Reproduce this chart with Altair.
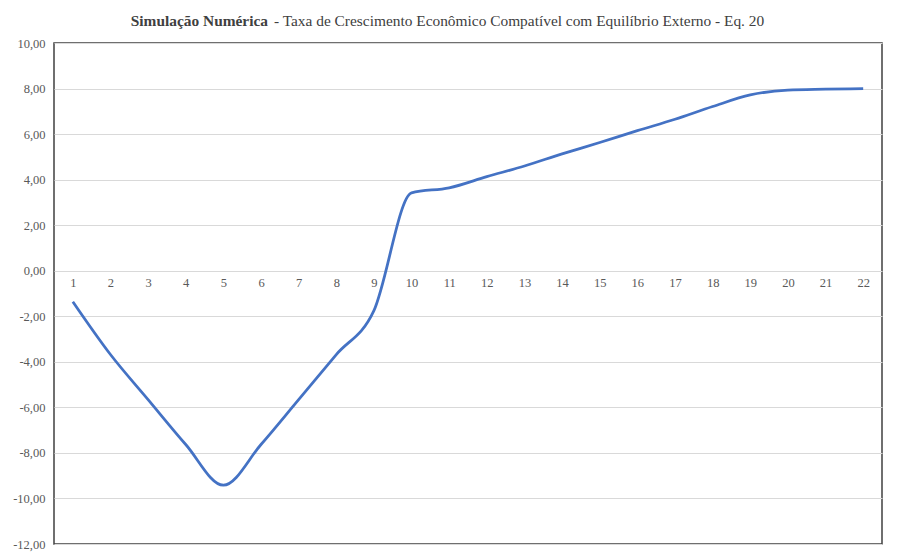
import altair as alt
import pandas as pd

periods = list(range(1, 23))
values = [-1.36, -3.68, -5.66, -7.63, -9.42, -7.63, -5.66, -3.68, -1.75, 3.42,
          3.64, 4.13, 4.60, 5.13, 5.63, 6.15, 6.65, 7.21, 7.72, 7.93, 7.97, 8.00]
y_ticks = [-12, -10, -8, -6, -4, -2, 0, 2, 4, 6, 8, 10]
title_bold = "Simulação Numérica"
title_rest = "- Taxa de Crescimento Econômico Compatível com Equilíbrio Externo - Eq. 20"

W, H = 828, 501
FONT = "'Liberation Serif', 'Times New Roman', serif"
df = pd.DataFrame({"p": periods, "v": values})

y0_pix = H * 10 / 22

line = alt.Chart(df).mark_line(
    interpolate="monotone", color="#4472C4", strokeWidth=2.75
).encode(
    x=alt.X("p:O", sort=periods, scale=alt.Scale(padding=0.5),
            axis=alt.Axis(title=None, labelAngle=0, domain=False, ticks=False,
                          grid=False, offset=-(H - y0_pix), labelPadding=6,
                          labelFont=FONT, labelFontSize=12.5, labelColor="#595959")),
    y=alt.Y("v:Q", scale=alt.Scale(domain=[-12, 10], nice=False, zero=False),
            axis=alt.Axis(title=None, values=y_ticks, domain=False, ticks=False,
                          labelPadding=9, gridColor="#d9d9d9", gridWidth=1,
                          labelFont=FONT, labelFontSize=12.5, labelColor="#595959",
                          labelExpr="replace(replace(format(datum.value, '.2f'), '.', ','), '\u2212', '-')")),
)

t1 = alt.Chart(pd.DataFrame({"t": [title_bold]})).mark_text(
    align="right", baseline="alphabetic", font=FONT, fontSize=15.4,
    fontWeight="bold", color="#404040"
).encode(text="t:N", x=alt.value(214), y=alt.value(-17.5))

t2 = alt.Chart(pd.DataFrame({"t": [title_rest]})).mark_text(
    align="left", baseline="alphabetic", font=FONT, fontSize=15.4,
    color="#404040"
).encode(text="t:N", x=alt.value(220), y=alt.value(-17.5))

chart = alt.layer(line, t1, t2).properties(
    width=W, height=H,
    autosize=alt.AutoSizeParams(type="none"),
    padding={"left": 46, "top": 35, "right": 10, "bottom": 8},
    background="white",
).configure_view(stroke="#404040", strokeWidth=1.5)

chart.save("out.html", embed_options={"renderer": "svg", "actions": False})
